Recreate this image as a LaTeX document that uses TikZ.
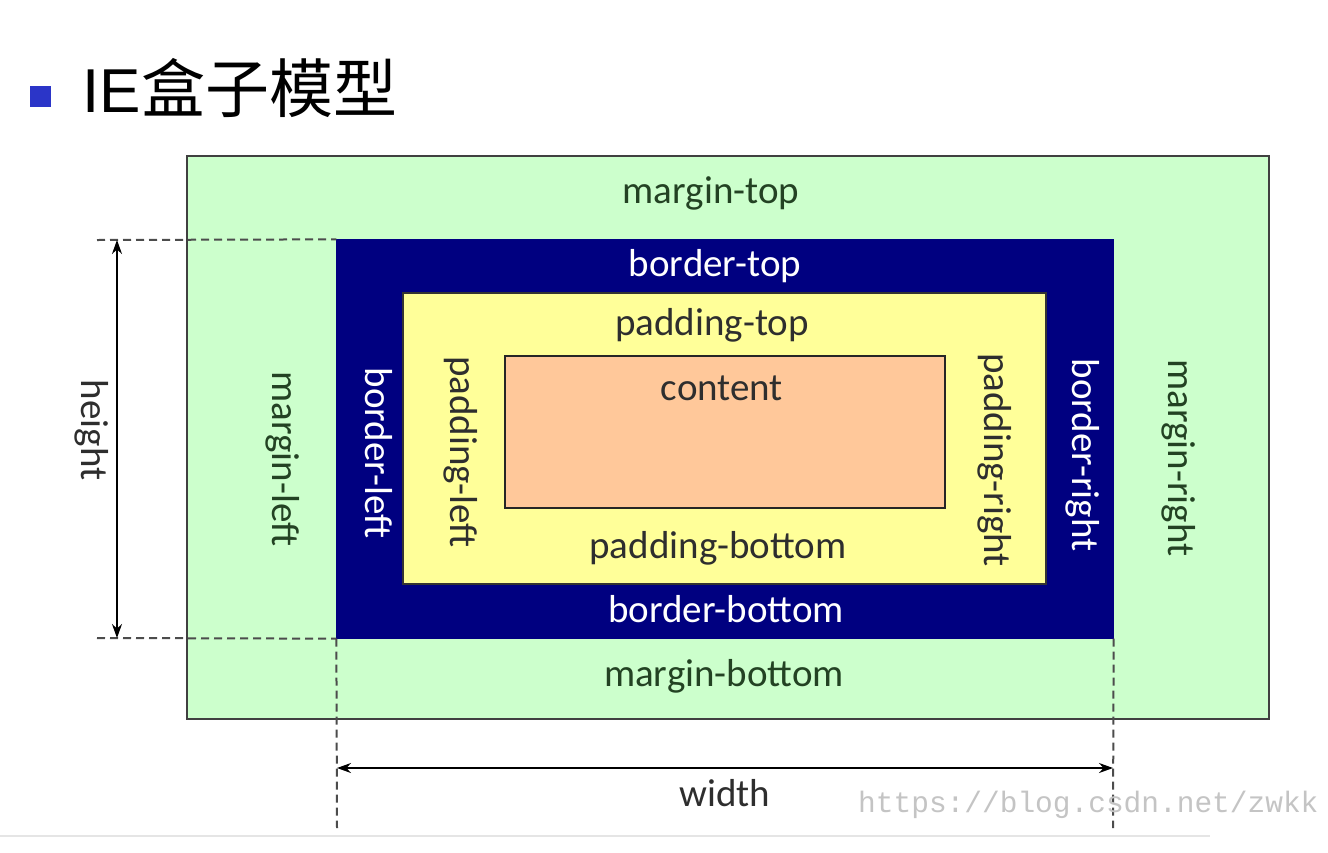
\documentclass[tikz,border=0pt]{standalone}
\usepackage{fontspec}
\setmainfont{Carlito}
\newfontfamily\cjkfont{Noto Sans CJK SC}
\newfontfamily\wmfont{Liberation Mono}
\usetikzlibrary{arrows.meta}
\definecolor{marginc}{HTML}{CCFFCC}
\definecolor{borderc}{HTML}{000080}
\definecolor{paddingc}{HTML}{FFFF99}
\definecolor{contentc}{HTML}{FFC89A}
\definecolor{mtext}{HTML}{234223}
\definecolor{ptext}{HTML}{2E2E2E}
\definecolor{bullet}{HTML}{2B35C8}
\definecolor{wmark}{HTML}{C4C4C4}
\begin{document}
\begin{tikzpicture}[x=1pt,y=-1pt,
  box/.style={rectangle,inner sep=0pt,line width=1.3pt},
  lab/.style={inner sep=0pt,font=\fontsize{39}{39}\selectfont},
  vlab/.style={lab,rotate=-90},
  dim/.style={line width=1.6pt,{Stealth[length=14pt,width=10pt]}-{Stealth[length=14pt,width=10pt]}},
  guide/.style={dash pattern=on 8pt off 5pt,line width=2pt,black!70}]
\useasboundingbox (0,0) rectangle (1328,852);
\fill[white] (0,0) rectangle (1328,852);
% title
\fill[bullet] (30,86) rectangle (51,107);
\node[anchor=base west,inner sep=0pt,font=\fontsize{62}{62}\selectfont\sffamily] (ie) at (82,112) {\fontspec{Liberation Sans}IE};
\node[anchor=base west,inner sep=0pt,font=\fontsize{64}{64}\selectfont\cjkfont] (title) at (ie.base east) {盒子模型};
% boxes
\node[box,draw=black!75,fill=marginc,minimum width=1082pt,minimum height=563pt] (margin) at (728,437.5) {};
\node[box,draw=borderc,fill=borderc,minimum width=776pt,minimum height=398pt] (border) at (725,439) {};
\node[box,draw=black!80,fill=paddingc,minimum width=643pt,minimum height=291pt] (padding) at (724.5,438.5) {};
\node[box,draw=black!85,fill=contentc,minimum width=440pt,minimum height=152pt] (content) at (725,432) {};
% labels
\node[lab,text=mtext] (mt) at (711,193) {margin-top};
\node[lab,text=mtext] (mb) at (724,676) {margin-bottom};
\node[vlab,text=mtext] (ml) at (283,459) {margin-left};
\node[vlab,text=mtext] (mr) at (1179,458) {margin-right};
\node[lab,text=white] (bt) at (715,266) {border-top};
\node[lab,text=white] (bb) at (726,609) {border-bottom};
\node[vlab,text=white] (bl) at (379,453) {border-left};
\node[vlab,text=white] (br) at (1083,455) {border-right};
\node[lab,text=ptext] (pt) at (712,325) {padding-top};
\node[lab,text=ptext] (pb) at (718,548) {padding-bottom};
\node[vlab,text=ptext] (pl) at (461,452) {padding-left};
\node[vlab,text=ptext] (pr) at (995,460) {padding-right};
\node[lab,text=ptext] (ct) at (722,388) {content};
% height dimension
\coordinate (hgL1) at (97,240);
\coordinate (hgL2) at (97,638);
\coordinate (hT) at (117,240);
\coordinate (hB) at (117,638);
\draw[guide] (hgL1) -- (border.north west);
\draw[guide] (hgL2) -- (border.south west);
\draw[dim] (hT) -- (hB);
\node[vlab,text=ptext] (hl) at (92,430) {height};
% width dimension
\coordinate (wgL) at (337,828);
\coordinate (wgR) at (1113,828);
\coordinate (wL) at (337,768);
\coordinate (wR) at (1113,768);
\draw[guide] (border.south west) -- (wgL);
\draw[guide] (border.south east) -- (wgR);
\draw[dim] (wL) -- (wR);
\node[lab,text=ptext] (wl) at (725,793) {width};
% watermark
\node[anchor=base west,inner sep=0pt,text=wmark,font=\fontsize{29.5}{29.5}\selectfont\wmfont] (wm) at (858,812) {https://blog.csdn.net/zwkk};
% bottom rule
\coordinate (r1) at (0,836);
\coordinate (r2) at (1210,836);
\draw[line width=2pt,black!10] (r1) -- (r2);
\end{tikzpicture}
\end{document}
